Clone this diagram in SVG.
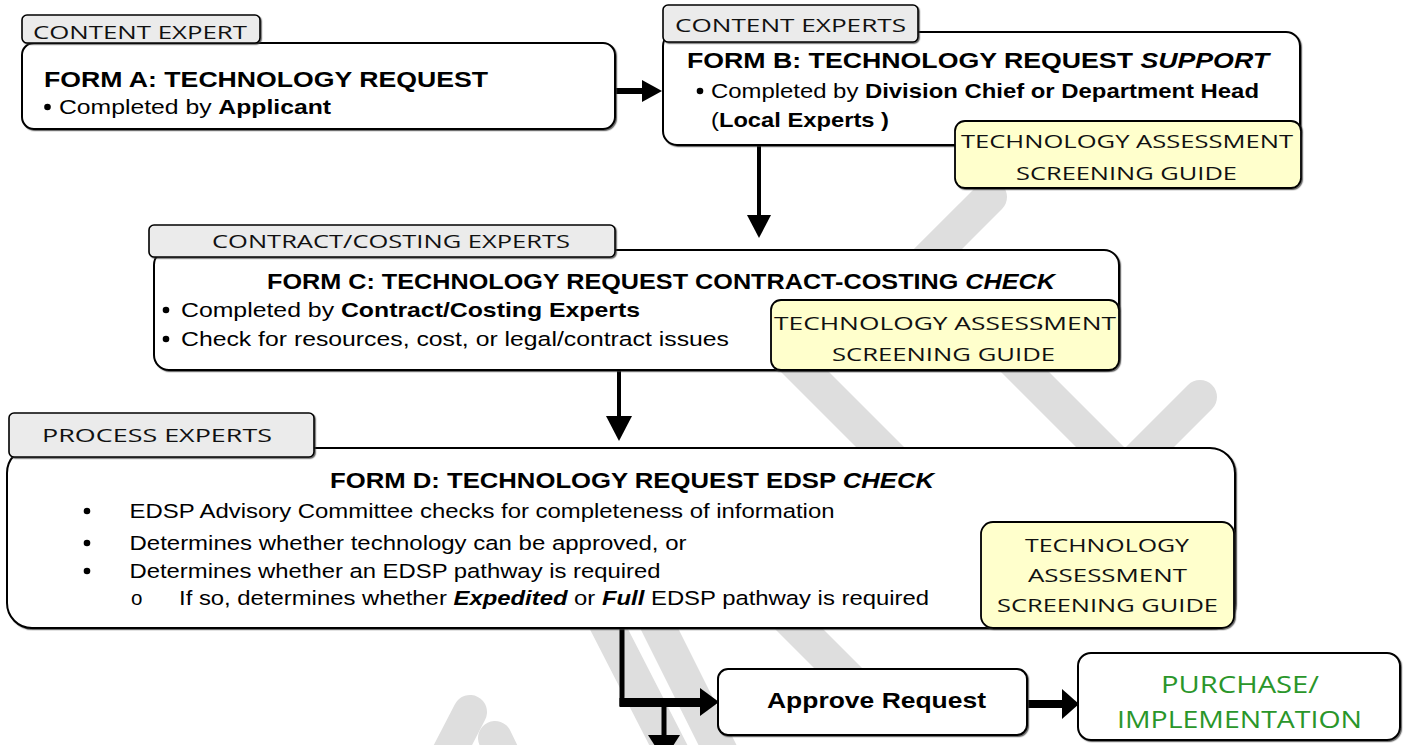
<svg xmlns="http://www.w3.org/2000/svg" width="1405" height="745" viewBox="0 0 1405 745">
  <defs>
    <filter id="shade" x="-5%" y="-5%" width="110%" height="120%">
      <feDropShadow dx="1.2" dy="1.2" stdDeviation="0.4" flood-color="#333" flood-opacity="0.7"/>
    </filter>
  </defs>
  <style>
    .wm{fill:none;stroke:#dedede;stroke-width:34;stroke-linecap:round}
    .box{fill:#fff;stroke:#000;stroke-width:2;filter:url(#shade)}
    .tab{fill:#ebebeb;stroke:#000;stroke-width:1.6;filter:url(#shade)}
    .guide{fill:#ffffcc;stroke:#000;stroke-width:1.8;filter:url(#shade)}
    .t{font-family:"Liberation Sans",Arial,sans-serif;font-size:20.5px;fill:#000}
    .h{font-family:"Liberation Sans",Arial,sans-serif;font-size:22px;font-weight:bold;fill:#000}
    .g{font-family:"Open Sans","Liberation Sans",sans-serif;font-size:19px;fill:#111}
    .grn{fill:#2a962a;font-size:23px}
    .b{font-weight:bold}
    .bi{font-weight:bold;font-style:italic}
    .i{font-style:italic}
    .dot{fill:#000}
    .ln{stroke:#000;fill:none}
    .hd{fill:#000}
  </style>

  <!-- faint background watermark strokes -->
  <g id="watermark">
    <path class="wm" d="M990,197 L860,327"/>
    <path class="wm" d="M790,357 L900,467"/>
    <path class="wm" d="M1000,347 L1120,467"/>
    <path class="wm" d="M1200,397 L1090,507"/>
    <path class="wm" d="M594,600 L676,760"/>
    <path class="wm" d="M645,600 L725,760"/>
    <path class="wm" d="M770,600 L870,700"/>
    <path class="wm" d="M470,712 L440,770"/>
    <path class="wm" d="M495,738 L520,790"/>
  </g>

  <!-- connectors -->
  <g id="connectors">
    <path class="ln" d="M615,91 H645" stroke-width="6"/>
    <polygon class="hd" points="642,80 662,91 642,102"/>
    <path class="ln" d="M759,145 V217" stroke-width="4"/>
    <polygon class="hd" points="747,215 771,215 759,238"/>
    <path class="ln" d="M619,370 V418" stroke-width="4"/>
    <polygon class="hd" points="606,416 632,416 619,441"/>
    <path class="ln" d="M622,628 V706" stroke-width="5"/>
    <rect x="619.5" y="698" width="83" height="9" class="hd"/>
    <polygon class="hd" points="700,688 719,702 700,716"/>
    <path class="ln" d="M664,703 V738" stroke-width="5"/>
    <polygon class="hd" points="648,735 680,735 664,760"/>
    <path class="ln" d="M1027,704 H1064" stroke-width="8"/>
    <polygon class="hd" points="1062,689 1079,704 1062,719"/>
  </g>

  <!-- Form A -->
  <g id="form-a">
    <rect class="box" x="22" y="43" width="593" height="86" rx="12"/>
    <rect class="tab" x="22" y="15" width="238" height="28" rx="5"/>
    <text class="g" x="33" y="39" textLength="214" lengthAdjust="spacingAndGlyphs">CONTENT EXPERT</text>
    <text class="h" x="44" y="87" textLength="444" lengthAdjust="spacingAndGlyphs">FORM A: TECHNOLOGY REQUEST</text>
    <circle class="dot" cx="47.5" cy="107" r="3.3"/>
    <text class="t" x="59" y="114" textLength="272" lengthAdjust="spacingAndGlyphs">Completed by <tspan class="b">Applicant</tspan></text>
  </g>

  <!-- Form B -->
  <g id="form-b">
    <rect class="box" x="663" y="32" width="637" height="113" rx="14"/>
    <rect class="tab" x="663" y="5" width="255" height="37" rx="5"/>
    <text class="g" x="675" y="32" textLength="231" lengthAdjust="spacingAndGlyphs">CONTENT EXPERTS</text>
    <text class="h" x="687" y="68" textLength="582" lengthAdjust="spacingAndGlyphs">FORM B: TECHNOLOGY REQUEST <tspan class="i">SUPPORT</tspan></text>
    <circle class="dot" cx="700" cy="91" r="3.3"/>
    <text class="t" x="711" y="98" textLength="548" lengthAdjust="spacingAndGlyphs">Completed by <tspan class="b">Division Chief or Department Head</tspan></text>
    <text class="t" x="711" y="127" textLength="178" lengthAdjust="spacingAndGlyphs">(<tspan class="b">Local Experts )</tspan></text>
  </g>
  <g id="guide-b">
    <rect class="guide" x="955" y="121" width="346" height="67" rx="10"/>
    <text class="g" x="961" y="148" textLength="332" lengthAdjust="spacingAndGlyphs">TECHNOLOGY ASSESSMENT</text>
    <text class="g" x="1016" y="180" textLength="221" lengthAdjust="spacingAndGlyphs">SCREENING GUIDE</text>
  </g>

  <!-- Form C -->
  <g id="form-c">
    <rect class="box" x="154" y="250" width="965" height="120" rx="15"/>
    <rect class="tab" x="149" y="225" width="466" height="32" rx="5"/>
    <text class="g" x="212" y="248" textLength="358" lengthAdjust="spacingAndGlyphs">CONTRACT/COSTING EXPERTS</text>
    <text class="h" x="267" y="289" textLength="788" lengthAdjust="spacingAndGlyphs">FORM C: TECHNOLOGY REQUEST CONTRACT-COSTING <tspan class="i">CHECK</tspan></text>
    <circle class="dot" cx="166" cy="310" r="3.3"/>
    <text class="t" x="181" y="317" textLength="459" lengthAdjust="spacingAndGlyphs">Completed by <tspan class="b">Contract/Costing Experts</tspan></text>
    <circle class="dot" cx="166" cy="339" r="3.3"/>
    <text class="t" x="181" y="346" textLength="548" lengthAdjust="spacingAndGlyphs">Check for resources, cost, or legal/contract issues</text>
  </g>
  <g id="guide-c">
    <rect class="guide" x="771" y="300" width="348" height="70" rx="10"/>
    <text class="g" x="774" y="330" textLength="342" lengthAdjust="spacingAndGlyphs">TECHNOLOGY ASSESSMENT</text>
    <text class="g" x="832" y="361" textLength="223" lengthAdjust="spacingAndGlyphs">SCREENING GUIDE</text>
  </g>

  <!-- Form D -->
  <g id="form-d">
    <rect class="box" x="7" y="448" width="1228" height="180" rx="25"/>
    <rect class="tab" x="9" y="413" width="305" height="44" rx="5"/>
    <text class="g" x="42" y="442" textLength="230" lengthAdjust="spacingAndGlyphs">PROCESS EXPERTS</text>
    <text class="h" x="330" y="488" textLength="604" lengthAdjust="spacingAndGlyphs">FORM D: TECHNOLOGY REQUEST EDSP <tspan class="i">CHECK</tspan></text>
    <circle class="dot" cx="87" cy="511" r="3.3"/>
    <text class="t" x="129.5" y="518" textLength="705" lengthAdjust="spacingAndGlyphs">EDSP Advisory Committee checks for completeness of information</text>
    <circle class="dot" cx="87" cy="543" r="3.3"/>
    <text class="t" x="129.5" y="550" textLength="557" lengthAdjust="spacingAndGlyphs">Determines whether technology can be approved, or</text>
    <circle class="dot" cx="87" cy="571" r="3.3"/>
    <text class="t" x="129.5" y="578" textLength="531" lengthAdjust="spacingAndGlyphs">Determines whether an EDSP pathway is required</text>
    <text class="t" x="131" y="605" font-size="17">o</text>
    <text class="t" x="179" y="605" textLength="750" lengthAdjust="spacingAndGlyphs">If so, determines whether <tspan class="bi">Expedited</tspan> or <tspan class="bi">Full</tspan> EDSP pathway is required</text>
  </g>
  <g id="guide-d">
    <rect class="guide" x="981" y="522" width="253" height="106" rx="12"/>
    <text class="g" x="1025" y="552" textLength="164" lengthAdjust="spacingAndGlyphs">TECHNOLOGY</text>
    <text class="g" x="1028" y="582" textLength="159" lengthAdjust="spacingAndGlyphs">ASSESSMENT</text>
    <text class="g" x="997" y="612" textLength="221" lengthAdjust="spacingAndGlyphs">SCREENING GUIDE</text>
  </g>

  <!-- Outcome nodes -->
  <g id="approve">
    <rect class="box" x="718" y="669" width="309" height="66" rx="10"/>
    <text class="h" x="767" y="708" textLength="219" lengthAdjust="spacingAndGlyphs">Approve Request</text>
  </g>
  <g id="purchase">
    <rect class="box" x="1078" y="653" width="322" height="87" rx="13"/>
    <text class="g grn" x="1161" y="693" textLength="158" lengthAdjust="spacingAndGlyphs">PURCHASE/</text>
    <text class="g grn" x="1117" y="728" textLength="245" lengthAdjust="spacingAndGlyphs">IMPLEMENTATION</text>
  </g>
</svg>
